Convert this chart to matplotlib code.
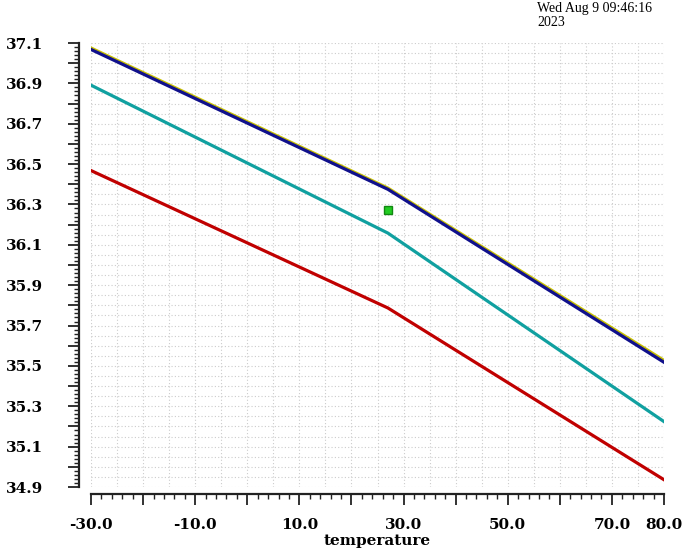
import numpy as np
import matplotlib
matplotlib.use("Agg")
import matplotlib.pyplot as plt
from matplotlib.ticker import MultipleLocator, FuncFormatter

# data
temperature = [-30.0, 27.0, 80.0]
yellow_vals = [37.077, 36.383, 35.529]
blue_vals = [37.068, 36.375, 35.518]
teal_vals = [36.891, 36.158, 35.224]
red_vals = [36.468, 35.787, 34.936]
point_x = [27.0]
point_y = [36.272]

x_labels = [-30, -10, 10, 30, 50, 70, 80]
y_labels = [34.9, 35.1, 35.3, 35.5, 35.7, 35.9, 36.1, 36.3, 36.5, 36.7, 36.9, 37.1]

fig = plt.figure(figsize=(6.85, 5.54), dpi=100)
ax = fig.add_axes([91 / 685, 1 - 487 / 554, (664 - 91) / 685, (487 - 43) / 554])

# grid
for gx in np.arange(-30, 80.1, 5):
    ax.axvline(gx, color="#cccccc", lw=0.8, ls=(0, (1, 2)), zorder=0)
for gy in np.arange(34.9, 37.101, 0.05):
    ax.axhline(gy, color="#cccccc", lw=0.8, ls=(0, (1, 2)), zorder=0)

ax.plot(temperature, yellow_vals, color="#c8c000", lw=1.8, zorder=2)
ax.plot(temperature, blue_vals, color="#10108c", lw=2.3, zorder=3)
ax.plot(temperature, teal_vals, color="#10a0a0", lw=2.3, zorder=3)
ax.plot(temperature, red_vals, color="#c00000", lw=2.3, zorder=3)
ax.plot(point_x, point_y, ls="none", marker="s", ms=6, mfc="#22cc22", mec="#118811", mew=1, zorder=4)

ax.set_xlim(-30, 80)
ax.set_ylim(34.9, 37.1)

for s in ["top", "right"]:
    ax.spines[s].set_visible(False)
ax.spines["left"].set_position(("outward", 8.6))
ax.spines["bottom"].set_position(("outward", 5))
for s in ["left", "bottom"]:
    ax.spines[s].set_linewidth(1.6)
    ax.spines[s].set_color("#222222")

ax.xaxis.set_major_locator(MultipleLocator(10))
ax.xaxis.set_minor_locator(MultipleLocator(2))
ax.yaxis.set_major_locator(MultipleLocator(0.1))
ax.yaxis.set_minor_locator(MultipleLocator(0.02))

def fmt_x(v, pos):
    if any(abs(v - l) < 1e-6 for l in x_labels):
        return f"{v:.1f}"
    return ""

def fmt_y(v, pos):
    if any(abs(v - l) < 1e-6 for l in y_labels):
        return f"{v:.1f}"
    return ""

ax.xaxis.set_major_formatter(FuncFormatter(fmt_x))
ax.yaxis.set_major_formatter(FuncFormatter(fmt_y))

ax.tick_params(which="major", length=8, width=1.3, color="#222222")
ax.tick_params(which="minor", length=3.5, width=1.0, color="#222222")
ax.tick_params(axis="y", which="major", pad=18)
ax.tick_params(axis="x", which="major", pad=9)
for lab in ax.get_xticklabels() + ax.get_yticklabels():
    lab.set_fontfamily("DejaVu Serif")
    lab.set_fontweight("bold")
    lab.set_fontsize(11)

ax.set_xlabel("temperature", fontfamily="DejaVu Serif", fontweight="bold", fontsize=11, labelpad=2)

fig.text(537 / 685, 1 - 2 / 554, "Wed Aug 9 09:46:16\n2023", fontfamily="Liberation Serif",
         fontsize=10, va="top", ha="left", linespacing=1.15)

fig.savefig("out.png", dpi=100)
